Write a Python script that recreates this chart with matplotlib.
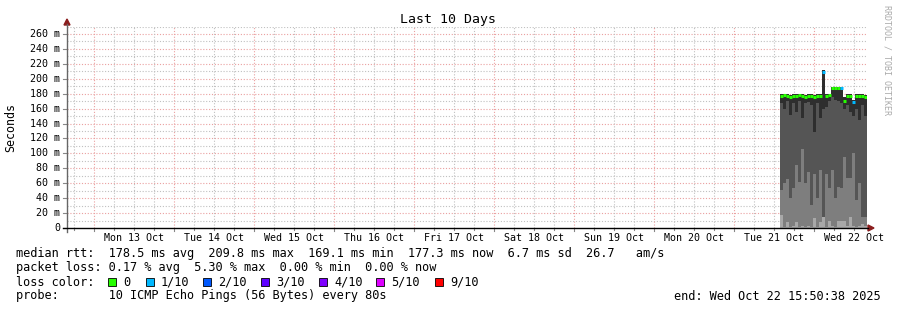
import numpy as np
import pandas as pd
import matplotlib
matplotlib.use("Agg")
import matplotlib.pyplot as plt
import matplotlib.dates as mdates
from matplotlib.lines import Line2D
from matplotlib.patches import Polygon, Rectangle

#
# Data (values in ms)
#
t_start = pd.Timestamp("2025-10-12 15:50:38")
t_end = pd.Timestamp("2025-10-22 15:50:38")
times = pd.date_range("2025-10-21 13:44", periods=29, freq="54min")

light_top = [17, 2, 8, 2, 3, 8, 2, 3, 2, 3, 2, 13, 2, 8, 24,
             2, 9, 3, 2, 9, 9, 9, 3, 15, 3, 2, 3, 5, 3]
mid_top = [51, 60, 66, 40, 53, 84, 62, 106, 60, 75, 31, 73, 40, 78, 15,
           73, 53, 78, 40, 55, 53, 95, 67, 67, 100, 37, 60, 15, 15]
dark_lo = [168, 160, 170, 152, 168, 155, 170, 147, 168, 169, 165, 128, 168, 147, 160,
           162, 170, 175, 172, 170, 168, 160, 165, 155, 150, 160, 145, 165, 150]
smoke_top = [180, 179, 179, 178, 179, 179, 180, 179, 178, 179, 179, 178, 179, 179, 212,
             179, 180, 189, 189, 189, 189, 176, 179, 179, 172, 179, 179, 179, 178]
median = [177, 178, 177, 176, 177, 177, 178, 177, 176, 177, 177, 176, 177, 177, 209,
          177, 178, 187, 187, 187, 187, 170, 177, 177, 169, 177, 177, 177, 176]
loss = [0, 0, 0, 0, 0, 0, 0, 0, 0, 0, 0, 0, 0, 0, 1,
        0, 0, 0, 0, 0, 1, 0, 0, 0, 1, 0, 0, 0, 0]

loss_labels = ["0", "1/10", "2/10", "3/10", "4/10", "5/10", "9/10"]
loss_colors = ["#26ff00", "#00b8ff", "#0059ff", "#5e00ff", "#7e00ff", "#dd00ff", "#ff0000"]
loss_cmap = {0: "#26ff00", 1: "#00b8ff", 2: "#0059ff", 3: "#5e00ff", 4: "#7e00ff", 5: "#dd00ff", 9: "#ff0000"}

day_labels = ["Mon 13 Oct", "Tue 14 Oct", "Wed 15 Oct", "Thu 16 Oct", "Fri 17 Oct",
              "Sat 18 Oct", "Sun 19 Oct", "Mon 20 Oct", "Tue 21 Oct", "Wed 22 Oct"]

W, H = 897, 310
mono = "DejaVu Sans Mono"


def px(x, y):
    return (x / W, 1 - y / H)


fig = plt.figure(figsize=(W / 100, H / 100), dpi=100)
ax = fig.add_axes([67 / W, 82 / H, 800 / W, (228 - 26.5) / H])

x0 = mdates.date2num(t_start)
x1 = mdates.date2num(t_end)
xs = mdates.date2num(times)
w = 54 / (24 * 60)

# smoke layers
lt = np.array(light_top)
mt = np.array(mid_top)
dl = np.array(dark_lo)
st = np.array(smoke_top)
ax.bar(xs, lt, w, 0, align="edge", color="#a8a8a8", linewidth=0, zorder=2)
ax.bar(xs, mt - lt, w, lt, align="edge", color="#7e7e7e", linewidth=0, zorder=2)
ax.bar(xs, dl - mt, w, mt, align="edge", color="#555555", linewidth=0, zorder=2)
ax.bar(xs, st - dl, w, dl, align="edge", color="#2e2e2e", linewidth=0, zorder=2)

# median line coloured by loss
cols = [loss_cmap[l] for l in loss]
ax.hlines(median, xs, xs + w, colors=cols, linewidth=2.2, zorder=3)

ax.set_xlim(x0, x1)
ax.set_ylim(0, 270)

# grid (light dotted)
dots = (0, (1, 1.6))
red_grid, grey_grid = "#eaa0a0", "#c0c0c0"
for v in range(10, 271, 10):
    c = red_grid if v % 20 == 0 else grey_grid
    ax.axhline(v, color=c, linewidth=0.8, linestyle=dots, zorder=1)
day0 = mdates.date2num(pd.Timestamp("2025-10-13"))
for k in range(-1, 40):
    xv = day0 + k * 0.25
    if x0 < xv < x1:
        c = red_grid if k % 4 == 0 else grey_grid
        ax.axvline(xv, color=c, linewidth=0.8, linestyle=dots, zorder=1)

for s in ax.spines.values():
    s.set_visible(False)
ax.set_xticks([])
ax.set_yticks([])

# y tick labels
for v in range(0, 261, 20):
    y = 228 - v * (194 / 260)
    lab = "0" if v == 0 else f"{v} m"
    fig.text(*px(60, y), lab, ha="right", va="center", fontsize=7.2, family=mono)
    fig.add_artist(Line2D([63 / W, 67 / W], [1 - y / H] * 2, color="#888888", lw=0.8))

# x tick labels at noon
for i, lab in enumerate(day_labels):
    xc = mdates.date2num(pd.Timestamp("2025-10-13 12:00") + pd.Timedelta(days=i))
    xp = 67 + (xc - x0) / (x1 - x0) * 800
    fig.text(*px(xp, 238), lab, ha="center", va="center", fontsize=7.2, family=mono)
for k in range(-1, 40):
    xv = day0 + k * 0.25
    if x0 <= xv <= x1:
        xp = 67 + (xv - x0) / (x1 - x0) * 800
        ln = 3 if k % 4 == 0 else 2
        fig.add_artist(Line2D([xp / W] * 2, [1 - 228 / H, 1 - (228 + ln) / H], color="#888888", lw=0.8))

# axes lines and arrows
fig.add_artist(Line2D([67 / W, 67 / W], [1 - 232 / H, 1 - 24 / H], color="#666666", lw=1))
fig.add_artist(Line2D([63 / W, 868 / W], [1 - 228 / H] * 2, color="black", lw=1))
fig.add_artist(Polygon([px(64, 25), px(70, 25), px(67, 19)], closed=True,
                       color="#8b1e1e", transform=fig.transFigure))
fig.add_artist(Polygon([px(868, 225), px(868, 231), px(874, 228)], closed=True,
                       color="#8b1e1e", transform=fig.transFigure))

# title and labels
fig.text(*px(448, 19), "Last 10 Days", ha="center", va="center", fontsize=9.5, family=mono)
fig.text(*px(11, 127), "Seconds", ha="center", va="center", rotation=90, fontsize=8.4, family=mono)
fig.text(*px(887, 5), "RRDTOOL / TOBI OETIKER", ha="center", va="top", rotation=-90,
         fontsize=6, family=mono, color="#aaaaaa")

# legend
fs = 8.52
fig.text(*px(16, 254), "median rtt:  178.5 ms avg  209.8 ms max  169.1 ms min  177.3 ms now  6.7 ms sd  26.7   am/s",
         ha="left", va="center", fontsize=fs, family=mono)
fig.text(*px(16, 268), "packet loss: 0.17 % avg  5.30 % max  0.00 % min  0.00 % now",
         ha="left", va="center", fontsize=fs, family=mono)
fig.text(*px(16, 282), "loss color:", ha="left", va="center", fontsize=fs, family=mono)
box_x = [108, 146, 203, 261, 319, 376, 435]
for bx, lab, c in zip(box_x, loss_labels, loss_colors):
    fig.add_artist(Rectangle(px(bx, 286), 8 / W, 8 / H, facecolor=c, edgecolor="black",
                             linewidth=0.6, transform=fig.transFigure))
    fig.text(*px(bx + 15, 282), lab, ha="left", va="center", fontsize=fs, family=mono)
fig.text(*px(16, 296), "probe:       10 ICMP Echo Pings (56 Bytes) every 80s",
         ha="left", va="center", fontsize=fs, family=mono)
fig.text(*px(881, 296), "end: Wed Oct 22 15:50:38 2025", ha="right", va="center", fontsize=fs, family=mono)

fig.savefig("out.png", dpi=100)
